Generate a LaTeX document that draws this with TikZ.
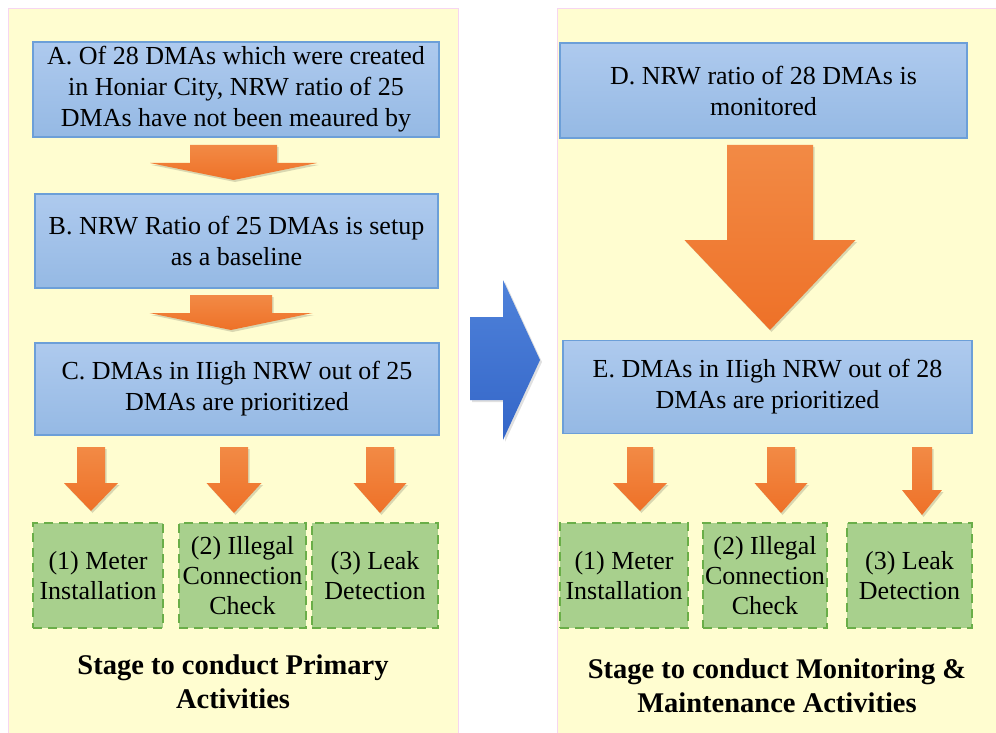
\documentclass[tikz,border=0pt]{standalone}
\usepackage{fontspec}
\newfontfamily\tms{Liberation Serif}
\usetikzlibrary{shadows}
\definecolor{panelbg}{HTML}{FFFDD0}
\definecolor{paneledge}{HTML}{F6D6F0}
\definecolor{blueTop}{HTML}{AECAEE}
\definecolor{blueBot}{HTML}{95B9E4}
\definecolor{blueEdge}{HTML}{6C9FD8}
\definecolor{greenFill}{HTML}{A8D08D}
\definecolor{greenEdge}{HTML}{6AAE48}
\definecolor{orTop}{HTML}{F28A45}
\definecolor{orBot}{HTML}{EE7128}
\definecolor{bigTop}{HTML}{4F82DA}
\definecolor{bigBot}{HTML}{3466C8}
\tikzset{
  panel/.style={fill=panelbg, draw=paneledge, line width=0.8pt},
  bluebox/.style={draw=blueEdge, line width=1.3pt, top color=blueTop, bottom color=blueBot,
     inner sep=0pt, align=center, font=\tms\fontsize{26}{31}\selectfont},
  greenbox/.style={draw=greenEdge, fill=greenFill, line width=2.6pt, dash pattern=on 9pt off 6pt,
     inner sep=0pt, align=center, minimum height=105pt, font=\tms\fontsize{26}{30}\selectfont},
  orangearrow/.style={top color=orTop, bottom color=orBot, draw=none,
     drop shadow={shadow xshift=1.5pt, shadow yshift=-2pt, opacity=0.15, fill=black}},
  bluearrow/.style={top color=bigTop, bottom color=bigBot, draw=none,
     drop shadow={shadow xshift=2pt, shadow yshift=-2pt, opacity=0.12, fill=black}},
  caption/.style={align=center, font=\tms\bfseries\fontsize{28.5}{34}\selectfont, inner sep=0pt}
}
\newcommand\downblock[6]{%
  \path[orangearrow] ({#1-#3},#2) -- ({#1+#3},#2) -- ({#1+#3},#4) -- ({#1+#5},#4)
    -- (#1,#6) -- ({#1-#5},#4) -- ({#1-#3},#4) -- cycle;}
\begin{document}
\begin{tikzpicture}[x=1pt,y=-1pt]
\useasboundingbox (0,0) rectangle (996,733);
\fill[white] (0,0) rectangle (996,733);
% panels
\path[panel] (8,8) rectangle (458,740);
\path[panel] (557,8) rectangle (1000,740);

% left column
\node[bluebox, minimum width=406pt, minimum height=95pt] (A) at (236,89.5)
  {A. Of 28 DMAs which were created\\in Honiar City, NRW ratio of 25\\DMAs have not been meaured by};
\node[bluebox, minimum width=403pt, minimum height=94pt] (B) at (236.5,241)
  {B. NRW Ratio of 25 DMAs is setup\\as a baseline};
\node[bluebox, minimum width=404pt, minimum height=92pt] (C) at (237,389)
  {C. DMAs in IIigh NRW out of 25\\DMAs are prioritized};

\node[greenbox, minimum width=130pt] (L1) at (98,575.5) {(1) Meter\\Installation};
\node[greenbox, minimum width=127pt] (L2) at (242.5,575.5) {(2) Illegal\\Connection\\Check};
\node[greenbox, minimum width=126pt] (L3) at (375,575.5) {(3) Leak\\Detection};

\node[caption] (capL) at (233,682) {Stage to conduct Primary\\Activities};

% right column
\node[bluebox, minimum width=407pt, minimum height=95pt] (D) at (763.5,90.5)
  {D. NRW ratio of 28 DMAs is\\monitored};
\node[bluebox, minimum width=409pt, minimum height=93pt] (E) at (767.5,387)
  {E. DMAs in IIigh NRW out of 28\\DMAs are prioritized};

\node[greenbox, minimum width=128pt] (R1) at (624,575.5) {(1) Meter\\Installation};
\node[greenbox, minimum width=124pt] (R2) at (765,575.5) {(2) Illegal\\Connection\\Check};
\node[greenbox, minimum width=125pt] (R3) at (909.5,575.5) {(3) Leak\\Detection};

\node[caption] (capR) at (777,686) {Stage to conduct Monitoring \&\\Maintenance Activities};

% orange block arrows
\downblock{233.5}{145}{43.5}{163}{83.5}{180}
\downblock{231}{295}{41}{313}{81.5}{330}
\downblock{770}{145}{43}{240}{85.5}{330}
\downblock{91}{447}{14}{483}{27}{511}
\downblock{234}{447}{14}{483}{27.5}{513}
\downblock{380}{447}{14}{483}{26.5}{513}
\downblock{640}{447}{13}{483}{27}{511}
\downblock{781}{447}{14}{483}{26.5}{513}
\downblock{922}{447}{10}{490}{20}{515}

% blue transition arrow
\path[bluearrow] (470,317) -- (503,317) -- (503,280) -- (540,360) -- (503,440) -- (503,400) -- (470,400) -- cycle;
\end{tikzpicture}
\end{document}
